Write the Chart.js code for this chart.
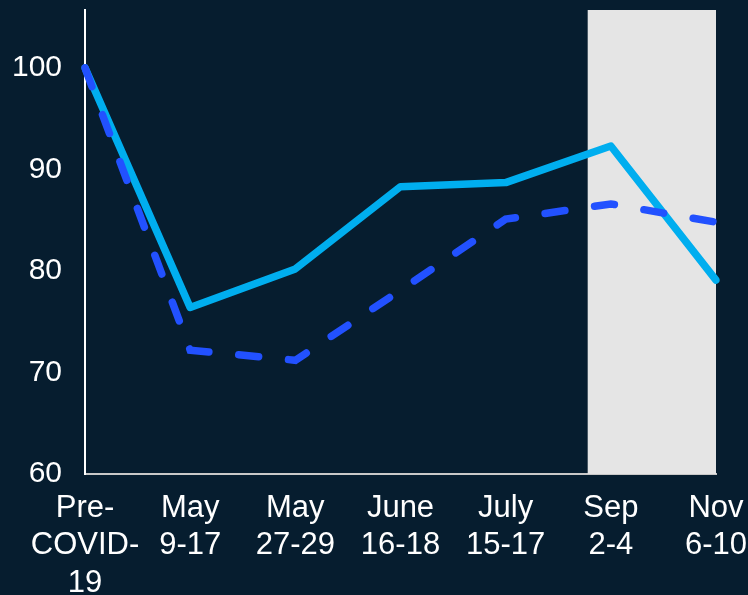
<!DOCTYPE html>
<html>
<head>
<meta charset="utf-8">
<script src="https://cdn.jsdelivr.net/npm/chart.js@4"></script>
<style>
    html, body { margin: 0; padding: 0; background: #061d2f; }
    #wrap { width: 748px; height: 595px; }
</style>
</head>
<body>
<div id="wrap"><canvas id="chart"></canvas></div>
<script>
const periods = [
    ['Pre-', 'COVID-', '19'],
    ['May', '9-17'],
    ['May', '27-29'],
    ['June', '16-18'],
    ['July', '15-17'],
    ['Sep', '2-4'],
    ['Nov', '6-10']
];
const solidValues = [100, 76.4, 80.2, 88.3, 88.7, 92.3, 79.1];
const dashedValues = [100, 72.2, 71.2, 78.1, 85.1, 86.6, 84.8];
const yTicks = [60, 70, 80, 90, 100];

// shaded window, in category index units
const shadeFrom = 4.78;
const shadeTo = 6;

const shadePlugin = {
    id: 'shade',
    beforeDatasetsDraw(chart) {
        const { ctx, chartArea, scales } = chart;
        const x1 = scales.x.getPixelForValue(shadeFrom);
        const x2 = scales.x.getPixelForValue(shadeTo);
        ctx.save();
        ctx.fillStyle = '#e5e5e5';
        ctx.fillRect(x1, chartArea.top, x2 - x1, chartArea.bottom - chartArea.top);
        ctx.restore();
    }
};

Chart.defaults.font.family = '"Liberation Sans", Arial, sans-serif';
Chart.defaults.color = '#ffffff';

new Chart(document.getElementById('chart'), {
    type: 'line',
    data: {
        labels: periods,
        datasets: [
            {
                label: 'Dashed',
                data: dashedValues,
                borderColor: '#2251ff',
                borderWidth: 7.5,
                borderDash: [20, 30],
                borderCapStyle: 'round',
                pointRadius: 0,
                tension: 0,
                fill: false
            },
            {
                label: 'Solid',
                data: solidValues,
                borderColor: '#00aeef',
                borderWidth: 7.5,
                borderCapStyle: 'round',
                borderJoinStyle: 'round',
                pointRadius: 0,
                tension: 0,
                fill: false
            }
        ]
    },
    options: {
        responsive: true,
        maintainAspectRatio: false,
        animation: false,
        layout: { padding: { top: 10, right: 32, left: 12, bottom: 0 } },
        plugins: {
            legend: { display: false },
            tooltip: { enabled: false }
        },
        scales: {
            x: {
                offset: false,
                grid: { display: false, drawTicks: false },
                border: { color: '#c8c8c8', width: 2 },
                afterFit(axis) {
                    axis.paddingLeft = 0;
                    axis.paddingRight = 0;
                    axis.height = 121;
                },
                ticks: {
                    color: '#ffffff',
                    maxRotation: 0,
                    autoSkip: false,
                    padding: 16,
                    font: { size: 31, lineHeight: 1.2 }
                }
            },
            y: {
                min: 60,
                max: 105.7,
                grid: { display: false, drawTicks: false },
                border: { color: '#ffffff', width: 2 },
                afterBuildTicks(axis) {
                    axis.ticks = yTicks.map(v => ({ value: v }));
                },
                afterFit(axis) {
                    axis.paddingTop = 0;
                    axis.paddingBottom = 0;
                    axis.width = 73;
                },
                ticks: {
                    color: '#ffffff',
                    padding: 23,
                    font: { size: 30 }
                }
            }
        }
    },
    plugins: [shadePlugin]
});
</script>
</body>
</html>
